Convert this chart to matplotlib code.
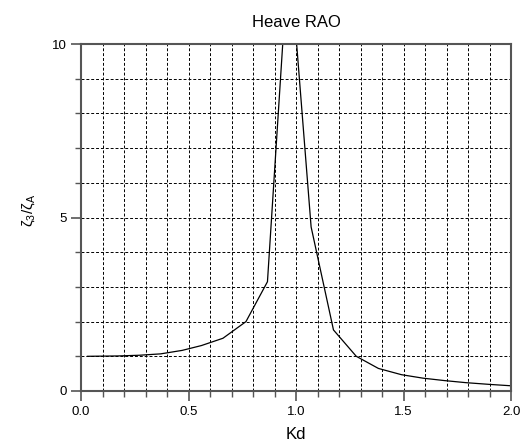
import matplotlib.pyplot as plt
from matplotlib.ticker import MultipleLocator

# Heave RAO values
kd = [0.03, 0.17, 0.27, 0.37, 0.47, 0.56, 0.66, 0.767, 0.867, 0.967,
      1.07, 1.174, 1.28, 1.383, 1.49, 1.59, 1.69, 1.79, 1.9, 2.0]
rao = [1.0, 1.01, 1.03, 1.07, 1.17, 1.31, 1.52, 2.0, 3.15, 12.8,
       4.73, 1.76, 1.0, 0.65, 0.47, 0.37, 0.30, 0.24, 0.19, 0.15]

xticks = [0.0, 0.5, 1.0, 1.5, 2.0]
yticks = [0, 5, 10]

plt.rcParams['font.family'] = ['Liberation Sans', 'DejaVu Sans']
plt.rcParams['mathtext.fontset'] = 'custom'
plt.rcParams['mathtext.rm'] = 'Liberation Sans'
plt.rcParams['mathtext.it'] = 'Liberation Sans'

fig = plt.figure(figsize=(5.21, 4.41), dpi=100)
ax = fig.add_axes([0.1555, 0.1134, 0.8255, 0.7866])

ax.plot(kd, rao, color='black', linewidth=0.9)

ax.set_xlim(0, 2)
ax.set_ylim(0, 10)
ax.set_xticks(xticks)
ax.set_xticklabels(['%.1f' % t for t in xticks])
ax.set_yticks(yticks)
ax.xaxis.set_minor_locator(MultipleLocator(0.1))
ax.yaxis.set_minor_locator(MultipleLocator(1))

grid_style = dict(color='black', linestyle=(0, (3, 2)), linewidth=0.7)
ax.grid(True, which='both', **grid_style)
ax.set_axisbelow(True)

ax.tick_params(which='major', direction='out', length=7, width=1.2,
               color='#555555', labelsize=9.5, pad=3.5)
ax.tick_params(which='minor', direction='out', length=4, width=1.0,
               color='#555555')
for s in ax.spines.values():
    s.set_color('#555555')
    s.set_linewidth(1.5)

ax.set_title('Heave RAO', fontsize=12, pad=12)
ax.set_xlabel('Kd', fontsize=12)
ax.xaxis.set_label_coords(0.5, -0.105)
ax.set_ylabel('ζ$_3$/ζ$_A$', fontsize=11)
ax.yaxis.set_label_coords(-0.102, 0.52)

fig.savefig('out.png', dpi=100)
